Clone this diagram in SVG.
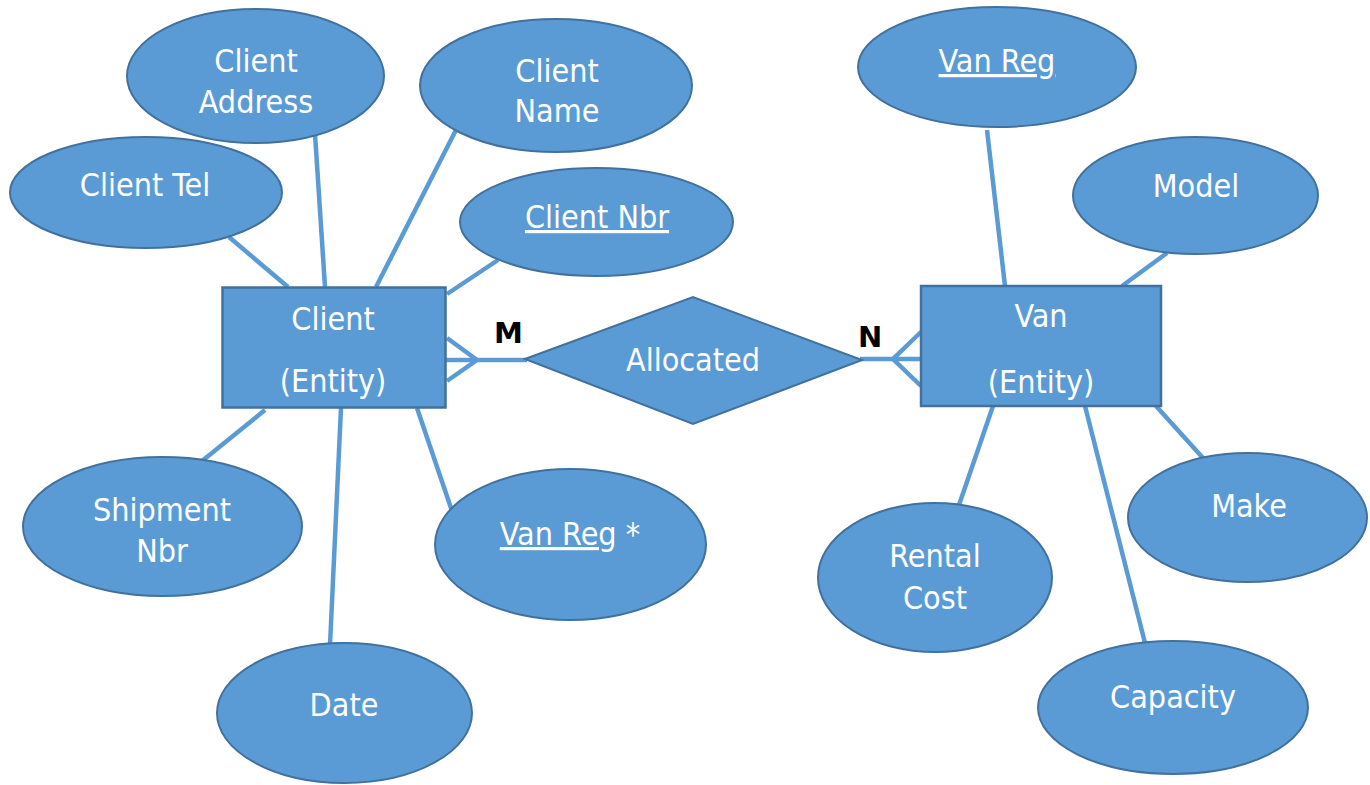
<svg xmlns="http://www.w3.org/2000/svg" width="1370" height="785" viewBox="0 0 1370 785">
  <style>
    .attr { fill: #5B9BD5; stroke: #41719C; stroke-width: 2; }
    .ent { fill: #5B9BD5; stroke: #41719C; stroke-width: 2.5; }
    .lbl { fill: #FFFFFF; font-family: "DejaVu Sans Condensed", "DejaVu Sans", sans-serif; font-stretch: condensed; font-size: 32px; text-anchor: middle; }
    .key { text-decoration: underline; }
    .card { fill: #000000; font-family: "DejaVu Sans", sans-serif; font-weight: bold; font-size: 29px; }
    .conn line, .conn polyline { stroke: #5B9BD5; stroke-width: 4.5; fill: none; }
  </style>
  <rect width="1370" height="785" fill="#FFFFFF"/>

  <!-- attribute links and relationship lines -->
  <g id="connectors" class="conn">
    <line x1="229" y1="237" x2="288" y2="287"/>
    <line x1="315" y1="134" x2="325" y2="287"/>
    <line x1="457" y1="128" x2="376" y2="287"/>
    <line x1="498" y1="260" x2="447" y2="294"/>
    <line x1="265" y1="410" x2="202" y2="461"/>
    <line x1="341" y1="408" x2="330" y2="645"/>
    <line x1="417" y1="408" x2="452" y2="511"/>
    <line x1="987" y1="130" x2="1005" y2="286"/>
    <line x1="1167" y1="253" x2="1122" y2="286"/>
    <line x1="993" y1="406" x2="959" y2="505"/>
    <line x1="1085" y1="406" x2="1145" y2="643"/>
    <line x1="1156" y1="406" x2="1203" y2="458"/>
    <!-- Client side: many -->
    <line x1="446" y1="360" x2="527" y2="360"/>
    <polyline points="447,338 477,360 447,381"/>
    <!-- Van side: many -->
    <line x1="860" y1="359" x2="921" y2="359"/>
    <polyline points="921,332 893,359 921,386"/>
  </g>

  <g id="client-address">
    <ellipse class="attr" cx="255.5" cy="76" rx="128.5" ry="67"/>
    <text class="lbl" x="256" y="72">Client</text>
    <text class="lbl" x="256" y="113">Address</text>
  </g>
  <g id="client-name">
    <ellipse class="attr" cx="556" cy="85.5" rx="136" ry="66.5"/>
    <text class="lbl" x="557" y="82">Client</text>
    <text class="lbl" x="557" y="122">Name</text>
  </g>
  <g id="client-tel">
    <ellipse class="attr" cx="146" cy="192.5" rx="136" ry="55.5"/>
    <text class="lbl" x="145" y="196">Client Tel</text>
  </g>
  <g id="client-nbr">
    <ellipse class="attr" cx="596.5" cy="222" rx="136.5" ry="54"/>
    <text class="lbl key" x="597" y="228">Client Nbr</text>
  </g>
  <g id="client">
    <rect class="ent" x="222.5" y="287.5" width="223" height="120"/>
    <text class="lbl" x="333" y="330">Client</text>
    <text class="lbl" x="333" y="392">(Entity)</text>
  </g>
  <g id="shipment-nbr">
    <ellipse class="attr" cx="162.5" cy="526.5" rx="139.5" ry="69.5"/>
    <text class="lbl" x="162" y="521">Shipment</text>
    <text class="lbl" x="162" y="562">Nbr</text>
  </g>
  <g id="date">
    <ellipse class="attr" cx="344.5" cy="713" rx="127.5" ry="70"/>
    <text class="lbl" x="344" y="716">Date</text>
  </g>
  <g id="van-reg-fk">
    <ellipse class="attr" cx="570.5" cy="544.5" rx="135.5" ry="75.5"/>
    <text class="lbl" x="570" y="545"><tspan class="key">Van Reg</tspan> *</text>
  </g>
  <g id="allocated">
    <polygon class="attr" points="525,359 693,297 862,360 693,424"/>
    <text class="lbl" x="693" y="371">Allocated</text>
  </g>
  <g id="van-reg">
    <ellipse class="attr" cx="997" cy="67" rx="139" ry="60"/>
    <text class="lbl key" x="997" y="72">Van Reg</text>
  </g>
  <g id="model">
    <ellipse class="attr" cx="1195.5" cy="195.5" rx="122.5" ry="58.5"/>
    <text class="lbl" x="1196" y="197">Model</text>
  </g>
  <g id="van">
    <rect class="ent" x="921" y="286" width="240" height="120"/>
    <text class="lbl" x="1041" y="327">Van</text>
    <text class="lbl" x="1041" y="393">(Entity)</text>
  </g>
  <g id="rental-cost">
    <ellipse class="attr" cx="935" cy="577.5" rx="117" ry="74.5"/>
    <text class="lbl" x="935" y="567">Rental</text>
    <text class="lbl" x="935" y="609">Cost</text>
  </g>
  <g id="make">
    <ellipse class="attr" cx="1247.5" cy="517.5" rx="119.5" ry="64.5"/>
    <text class="lbl" x="1249" y="517">Make</text>
  </g>
  <g id="capacity">
    <ellipse class="attr" cx="1173" cy="707.5" rx="135" ry="66.5"/>
    <text class="lbl" x="1173" y="708">Capacity</text>
  </g>

  <g id="cardinality">
    <text class="card" x="494" y="343">M</text>
    <text class="card" x="858" y="347">N</text>
  </g>
</svg>
